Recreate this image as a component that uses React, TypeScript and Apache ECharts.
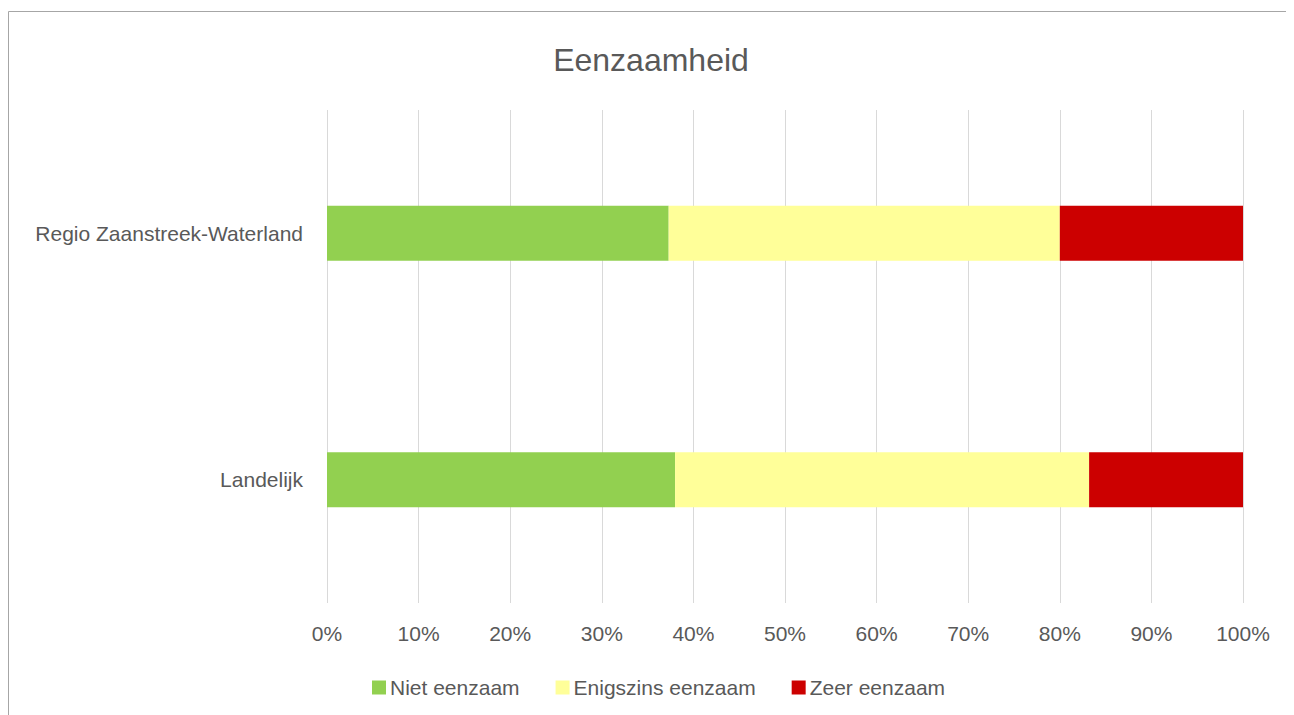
import React, { useEffect, useRef } from "react";
import * as echarts from "echarts";

const categories = ["Regio Zaanstreek-Waterland", "Landelijk"];
const seriesNames = ["Niet eenzaam", "Enigszins eenzaam", "Zeer eenzaam"];
const nietEenzaam = [37.3, 38.0];
const enigszinsEenzaam = [42.7, 45.2];
const zeerEenzaam = [20.0, 16.8];
const colors = ["#92d050", "#ffff99", "#cc0000"];
const FONT = "'Liberation Sans', sans-serif";

export default function App() {
  const ref = useRef<HTMLDivElement>(null);
  useEffect(() => {
    if (!ref.current) return;
    const chart = echarts.init(ref.current, undefined, { renderer: "svg" });
    const values = [nietEenzaam, enigszinsEenzaam, zeerEenzaam];
    chart.setOption({
      animation: false,
      textStyle: { fontFamily: FONT },
      title: {
        text: "Eenzaamheid",
        left: "center",
        top: 31,
        textStyle: { fontSize: 32, fontWeight: "normal", color: "#595959", fontFamily: FONT },
      },
      legend: {
        bottom: 12,
        left: 359,
        itemWidth: 14,
        itemHeight: 14,
        itemGap: 36,
        icon: "rect",
        textStyle: { fontSize: 21, color: "#595959", fontFamily: FONT, padding: [0, 0, 0, -1] },
        data: seriesNames,
      },
      graphic: [
        {
          type: "rect",
          shape: { x: 0.5, y: 3.5, width: 1281, height: 720 },
          style: { fill: "none", stroke: "#a6a6a6", lineWidth: 1 },
          silent: true,
        },
      ],
      grid: { left: 319, right: 51, top: 102, bottom: 112, containLabel: false },
      xAxis: {
        type: "value",
        min: 0,
        max: 100,
        interval: 10,
        axisLabel: {
          formatter: "{value}%",
          fontSize: 21,
          color: "#595959",
          margin: 20,
          fontFamily: FONT,
        },
        splitLine: { show: true, lineStyle: { color: "#d9d9d9", width: 1 } },
        axisLine: { show: false },
        axisTick: { show: false },
      },
      yAxis: {
        type: "category",
        data: categories,
        inverse: true,
        axisLine: { show: false },
        axisTick: { show: false },
        axisLabel: { fontSize: 21, color: "#595959", margin: 24, fontFamily: FONT },
      },
      series: seriesNames.map((name, i) => ({
        name,
        type: "bar",
        stack: "total",
        barWidth: 55,
        itemStyle: { color: colors[i] },
        data: values[i],
      })),
    });
    return () => chart.dispose();
  }, []);
  return <div ref={ref} style={{ width: 1286, height: 707 }} />;
}
